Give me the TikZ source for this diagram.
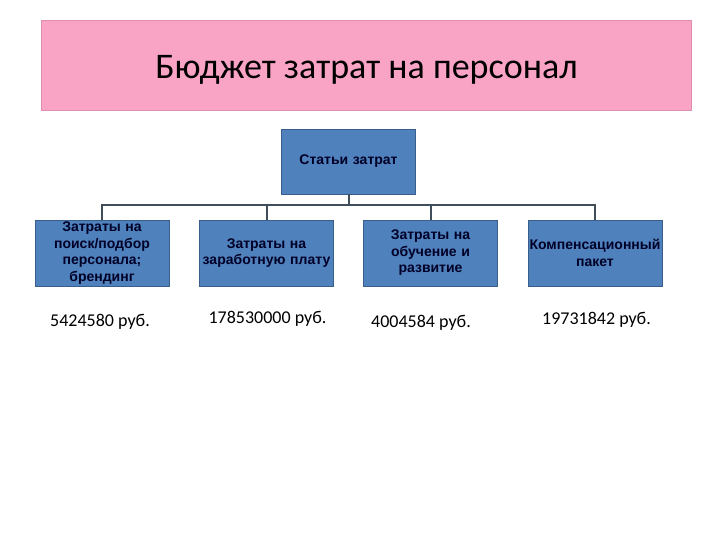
\documentclass[tikz,border=0pt]{standalone}
\usepackage{fontspec}
\setmainfont{Carlito}
\newfontfamily\boxfont{Liberation Sans}
\usepackage{xcolor}
\usepackage{tikz}
\definecolor{titlepink}{HTML}{F9A3C5}
\definecolor{boxblue}{HTML}{4F81BD}
\definecolor{boxedge}{HTML}{3A5E8C}
\definecolor{linkgray}{HTML}{404E5C}

\begin{document}
\begin{tikzpicture}[x=0.75pt, y=-0.75pt,
    titlebox/.style={rectangle, draw=titlepink!80!black!60!titlepink, fill=titlepink, minimum width=487.5pt, minimum height=67.5pt, text height=26.5pt, text depth=6pt, font=\fontsize{27}{32}\selectfont},
    costbox/.style={rectangle, draw=boxedge, fill=boxblue, minimum width=100.5pt, minimum height=49.5pt, text width=100.5pt, align=center, inner sep=0pt, font=\boxfont\bfseries\fontsize{10.5}{12.4}\selectfont, text=black!85!blue},
    sumtext/.style={font=\fontsize{13.5}{16}\selectfont},
    link/.style={draw=linkgray, line width=1.5pt}
]
\useasboundingbox (0,0) rectangle (720,540);
\node[titlebox] (title) at (366.5,65) {Бюджет затрат на персонал};
\node[costbox, text width=99.5pt, minimum height=48.5pt] (root) at (348.5,161.5) {Статьи затрат};
\node[costbox] (c1) at (102,253) {Затраты на\\поиск/подбор\\персонала;\\брендинг};
\node[costbox] (c2) at (266.5,253) {Затраты на\\заработную плату};
\node[costbox] (c3) at (430.5,253) {Затраты на\\обучение и\\развитие};
\node[costbox] (c4) at (595,253) {Компенсационный\\пакет};
\coordinate (bar) at (348.5,205);
\draw[link] (root.south) -- (bar);
\draw[link] (bar) -| (c1.north);
\draw[link] (bar) -| (c2.north);
\draw[link] (bar) -| (c3.north);
\draw[link] (bar) -| (c4.north);
\node[sumtext] (s1) at (100,322) {5424580 руб.};
\node[sumtext] (s2) at (267.5,319) {178530000 руб.};
\node[sumtext] (s3) at (421,323) {4004584 руб.};
\node[sumtext] (s4) at (596.5,320) {19731842 руб.};
\end{tikzpicture}
\end{document}
